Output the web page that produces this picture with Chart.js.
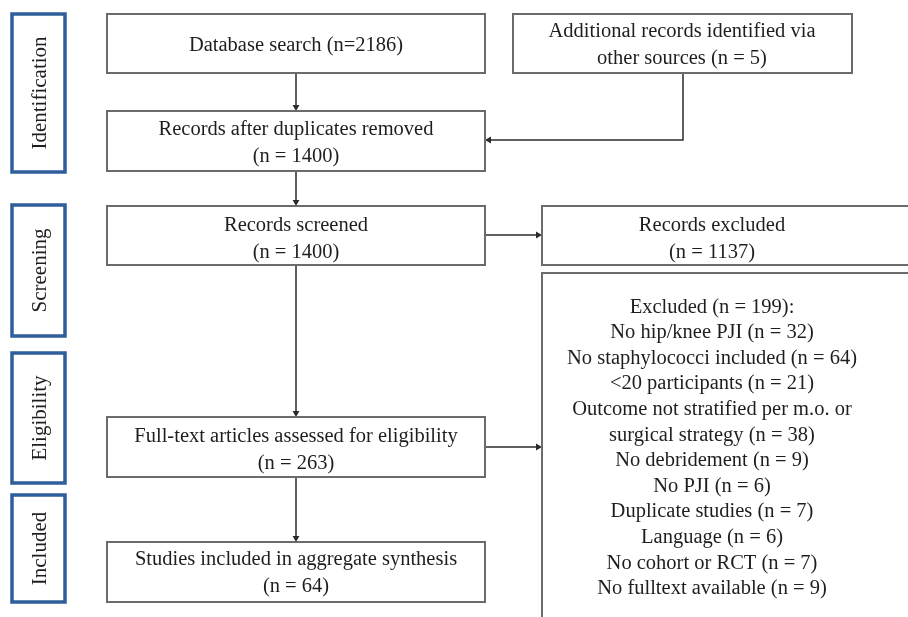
<!DOCTYPE html>
<html lang="en">

<head>
  <meta charset="UTF-8">
  <title>PRISMA flow diagram</title>
  <script src="https://cdn.jsdelivr.net/npm/chart.js"></script>
  <style>
    body { margin: 0; background: #fff; }
  </style>
</head>

<body>
  <canvas id="flowChart" width="908" height="617"></canvas>

  <script>
    // stage labels down the left side
    const stageLabels = ['Identification', 'Screening', 'Eligibility', 'Included'];
    const stageTop = [14, 205, 353, 495];
    const stageBottom = [172, 336, 483, 602];

    // flow boxes: [left, top, right, bottom] in diagram units
    const boxEdges = [
      [107, 14, 485, 73],
      [513, 14, 852, 73],
      [107, 111, 485, 171],
      [107, 206, 485, 265],
      [542, 206, 930, 265],
      [542, 273, 930, 640],
      [107, 417, 485, 477],
      [107, 542, 485, 602]
    ];
    const boxText = [
      ['Database search (n=2186)'],
      ['Additional records identified via', 'other sources (n = 5)'],
      ['Records after duplicates removed', '(n = 1400)'],
      ['Records screened', '(n = 1400)'],
      ['Records excluded', '(n = 1137)'],
      ['Excluded (n = 199):', 'No hip/knee PJI (n = 32)', 'No staphylococci included (n = 64)',
        '<20 participants (n = 21)', 'Outcome not stratified per m.o. or',
        'surgical strategy (n = 38)', 'No debridement (n = 9)', 'No PJI (n = 6)',
        'Duplicate studies (n = 7)', 'Language (n = 6)', 'No cohort or RCT (n = 7)',
        'No fulltext available (n = 9)'],
      ['Full-text articles assessed for eligibility', '(n = 263)'],
      ['Studies included in aggregate synthesis', '(n = 64)']
    ];
    // text centre per box (x, y)
    const textCenterX = [296, 682, 296, 296, 712, 712, 296, 296];
    const textCenterY = [44, 43.5, 141.5, 237.5, 237.5, 446, 448.5, 571.5];

    // arrows: list of points, last one is the tip
    const arrows = [
      [[296, 73], [296, 111]],
      [[683, 73], [683, 140], [485, 140]],
      [[296, 171], [296, 206]],
      [[485, 235], [542, 235]],
      [[296, 265], [296, 417]],
      [[485, 447], [542, 447]],
      [[296, 477], [296, 542]]
    ];

    const boxColor = '#6b6b6b';
    const stageColor = '#2f5e9c';
    const arrowColor = '#2b2b2b';
    const textColor = '#1e1e1e';
    const headSize = 4;

    function rectPoints(l, t, r, b) {
      return [{ x: l, y: t }, { x: r, y: t }, { x: r, y: b }, { x: l, y: b }, { x: l, y: t }];
    }

    const datasets = [];

    stageLabels.forEach((s, i) => {
      datasets.push({
        data: rectPoints(12, stageTop[i], 65, stageBottom[i]),
        borderColor: stageColor,
        borderWidth: 3.5,
        pointRadius: 0
      });
    });

    boxEdges.forEach(e => {
      datasets.push({
        data: rectPoints(e[0], e[1], e[2], e[3]),
        borderColor: boxColor,
        borderWidth: 2,
        pointRadius: 0
      });
    });

    arrows.forEach(a => {
      const n = a.length;
      const tip = a[n - 1], prev = a[n - 2];
      const dx = Math.sign(tip[0] - prev[0]), dy = Math.sign(tip[1] - prev[1]);
      // pull the last point back so the triangle's tip touches the box
      const pts = a.map((p, i) => i === n - 1
        ? { x: p[0] - dx * headSize, y: p[1] - dy * headSize }
        : { x: p[0], y: p[1] });
      let rot = 0;
      if (dy > 0) rot = 180;
      else if (dx < 0) rot = 270;
      else if (dx > 0) rot = 90;
      datasets.push({
        data: pts,
        borderColor: arrowColor,
        backgroundColor: arrowColor,
        borderWidth: 1.5,
        pointStyle: 'triangle',
        pointRotation: rot,
        pointBorderWidth: 0,
        pointRadius: pts.map((p, i) => i === n - 1 ? headSize : 0)
      });
    });

    const labelPlugin = {
      id: 'flowText',
      afterDatasetsDraw(chart) {
        const ctx = chart.ctx;
        const xs = chart.scales.x, ys = chart.scales.y;
        ctx.save();
        ctx.fillStyle = textColor;
        ctx.textAlign = 'center';
        ctx.textBaseline = 'middle';
        ctx.font = '20.5px "Liberation Serif", "Times New Roman", serif';
        boxText.forEach((lines, i) => {
          const step = i === 5 ? 25.6 : 27;
          const cx = xs.getPixelForValue(textCenterX[i]);
          const cy = ys.getPixelForValue(textCenterY[i]) + 2; // serif sits high on 'middle'
          lines.forEach((line, j) => {
            ctx.fillText(line, cx, cy + (j - (lines.length - 1) / 2) * step);
          });
        });
        ctx.font = '21px "Liberation Serif", "Times New Roman", serif';
        stageLabels.forEach((s, i) => {
          const cx = xs.getPixelForValue(40);
          const cy = ys.getPixelForValue((stageTop[i] + stageBottom[i]) / 2);
          ctx.save();
          ctx.translate(cx, cy);
          ctx.rotate(-Math.PI / 2);
          ctx.fillText(s, 0, 0);
          ctx.restore();
        });
        ctx.restore();
      }
    };

    new Chart(document.getElementById('flowChart'), {
      type: 'scatter',
      data: { datasets: datasets },
      options: {
        responsive: false,
        animation: false,
        events: [],
        showLine: true,
        layout: { padding: 0, autoPadding: false },
        elements: {
          line: { tension: 0, borderJoinStyle: 'miter', borderCapStyle: 'square', fill: false }
        },
        datasets: { scatter: { clip: false } },
        scales: {
          x: { type: 'linear', min: 0, max: 908, display: false },
          y: { type: 'linear', min: 0, max: 617, reverse: true, display: false }
        },
        plugins: {
          legend: { display: false },
          tooltip: { enabled: false }
        }
      },
      plugins: [labelPlugin]
    });
  </script>
</body>

</html>
